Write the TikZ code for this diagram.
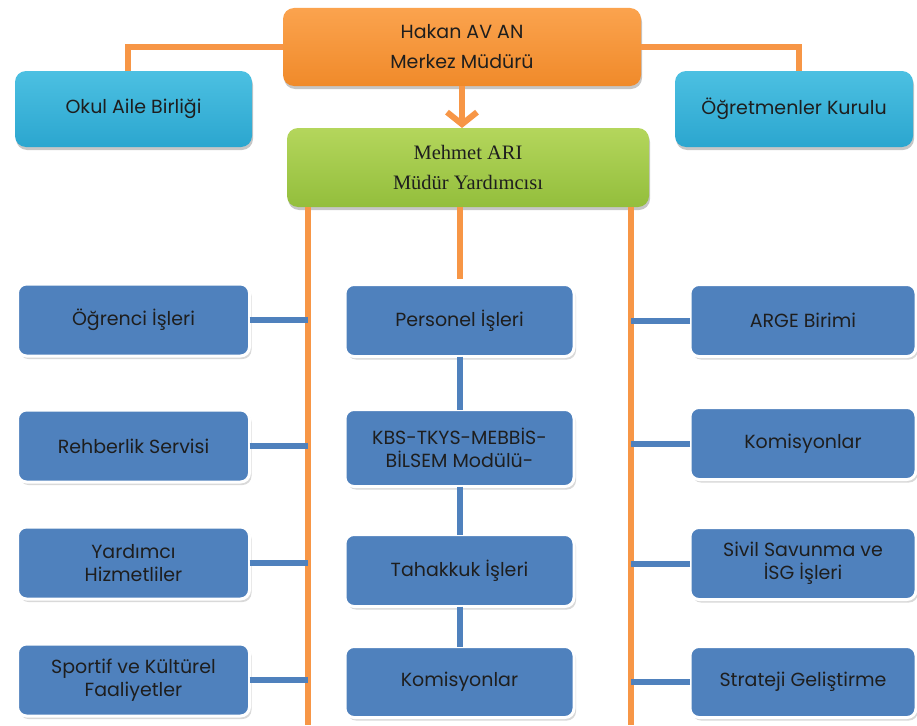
\documentclass[tikz,border=0pt]{standalone}
\usepackage{fontspec}
\setmainfont{Poppins}
\newfontfamily\serifnames{Liberation Serif}
\usetikzlibrary{positioning,shadows,arrows.meta}

\definecolor{unitblue}{HTML}{4F81BD}
\definecolor{linkorange}{HTML}{F79646}
\definecolor{inktext}{HTML}{1E1E1E}
\definecolor{chieftop}{HTML}{FBA34E}
\definecolor{chiefbot}{HTML}{F08A2A}
\definecolor{boardtop}{HTML}{4CC0E2}
\definecolor{boardbot}{HTML}{2BA6CF}
\definecolor{yardtop}{HTML}{B4D65C}
\definecolor{yardbot}{HTML}{93BE3C}

\tikzset{
  unit/.style={rectangle, rounded corners=9pt, fill=unitblue, draw=white,
    line width=3pt, outer sep=0pt, minimum width=232pt, minimum height=72pt,
    align=center, text=inktext, font=\fontsize{19}{23}\selectfont,
    drop shadow={shadow xshift=2pt, shadow yshift=-3pt, opacity=0.3}},
  board/.style={rectangle, rounded corners=11pt, outer sep=0pt,
    minimum height=76pt, align=center, text=inktext,
    font=\fontsize{19}{30}\selectfont,
    drop shadow={shadow xshift=1pt, shadow yshift=-3pt, opacity=0.45}},
  headline/.style={line width=6pt, draw=linkorange},
  branch/.style={line width=6pt, draw=unitblue},
}

\begin{document}
\begin{tikzpicture}[x=1pt, y=1pt]
\useasboundingbox (0,0) rectangle (917,-725);

% top of the chart
\node [board, minimum width=358pt, minimum height=78pt,
  top color=chieftop, bottom color=chiefbot]
  (chief) at (462,-47) {Hakan AV AN\\Merkez Müdürü};
\node [board, minimum width=237pt, top color=boardtop, bottom color=boardbot]
  (okul) at (133.5,-109) {Okul Aile Birliği};
\node [board, minimum width=238pt, top color=boardtop, bottom color=boardbot]
  (kurul) at (794,-109) {Öğretmenler Kurulu};
\node [board, minimum width=362pt, minimum height=79pt,
  top color=yardtop, bottom color=yardbot,
  font=\serifnames\fontsize{20.5}{30}\selectfont]
  (yard) at (468,-167.5) {Mehmet ARI\\Müdür Yardımcısı};

% left column
\node [unit] (ogrenci) at (133.5,-320) {Öğrenci İşleri};
\node [unit, below=54pt of ogrenci] (rehber) {Rehberlik Servisi};
\node [unit, below=45pt of rehber] (hizmet) {Yardımcı\\Hizmetliler};
\node [unit, below=45pt of hizmet] (sportif) {Sportif ve Kültürel\\Faaliyetler};

% middle column
\node [unit, minimum width=229pt] (personel) at (459.5,-320.5) {Personel İşleri};
\node [unit, minimum width=229pt, minimum height=77pt, below=53pt of personel]
  (kbs) {KBS-TKYS-MEBBİS-\\BİLSEM Modülü-};
\node [unit, minimum width=229pt, below=48pt of kbs] (tahakkuk) {Tahakkuk İşleri};
\node [unit, minimum width=229pt, minimum height=71pt, below=40pt of tahakkuk]
  (komisyon) {Komisyonlar};

% right column
\node [unit, minimum width=226pt] (arge) at (803,-320.5) {ARGE Birimi};
\node [unit, minimum width=226pt, below=51pt of arge] (rkomisyon) {Komisyonlar};
\node [unit, minimum width=226pt, below=48pt of rkomisyon] (sivil)
  {Sivil Savunma ve\\İSG İşleri};
\node [unit, minimum width=226pt, minimum height=71pt, below=47pt of sivil]
  (strateji) {Strateji Geliştirme};

\coordinate (lend) at (308,-725);
\coordinate (rend) at (631,-725);

% orange lines
\draw [headline] (chief.west) -| ([xshift=-6pt]okul.north);
\draw [headline] (chief.east) -| ([xshift=5pt]kurul.north);
\draw [headline, -{Straight Barb[length=12pt, width=30pt]}]
  (chief.south) -- (chief.south |- yard.north);
\draw [headline] (yard.south -| lend) -- (lend);
\draw [headline] (yard.south -| rend) -- (rend);
\draw [headline, shorten >=6pt] (yard.south -| personel.north) -- (personel.north);

% blue links
\foreach \u in {ogrenci, rehber, hizmet, sportif}
  \draw [branch] (\u.east) -- (\u.east -| lend);
\foreach \u in {arge, rkomisyon, sivil, strateji}
  \draw [branch] (\u.west) -- (\u.west -| rend);
\draw [branch] (personel) -- (kbs);
\draw [branch] (kbs) -- (tahakkuk);
\draw [branch] (tahakkuk) -- (komisyon);

\end{tikzpicture}
\end{document}
